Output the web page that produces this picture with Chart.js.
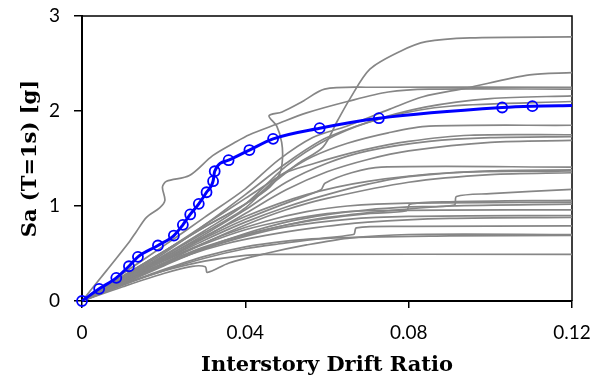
<!DOCTYPE html>
<html>
<head>
<meta charset="utf-8">
<script src="https://cdn.jsdelivr.net/npm/chart.js@4.4.0/dist/chart.umd.min.js"></script>
<style>
  html, body { margin: 0; padding: 0; background: #fff; }
  canvas { display: block; }
</style>
</head>
<body>
<canvas id="myChart" width="593" height="382"></canvas>
<script>
// Axis ticks

const xTicks = [0, 0.04, 0.08, 0.12];
const yTicks = [0, 1, 2, 3];

// Median IDA curve (blue)

const medianDrift = [0, 0.0042, 0.0084, 0.0115, 0.0137, 0.0186, 0.0225, 0.0247, 0.0265, 0.0286, 0.0305,
    0.0321, 0.0325, 0.0359, 0.041, 0.0468, 0.0582, 0.0727, 0.1029, 0.1103, 0.12];
const medianSa = [0, 0.128, 0.244, 0.366, 0.465, 0.584, 0.689, 0.802, 0.911, 1.023, 1.145,
    1.261, 1.366, 1.482, 1.589, 1.707, 1.819, 1.924, 2.037, 2.051, 2.058];

// Single record IDA curves (gray), [drift, Sa]

const rec01 = [[0, 0], [0.01, 0.26], [0.02, 0.52], [0.03, 0.78], [0.04, 1.02], [0.047, 1.25], [0.053, 1.45], [0.059, 1.62], [0.0626, 1.9], [0.0655, 2.12], [0.0705, 2.44], [0.078, 2.63], [0.0843, 2.73], [0.095, 2.77], [0.12, 2.78]];
const rec02 = [[0, 0], [0.01, 0.29], [0.02, 0.58], [0.03, 0.88], [0.04, 1.18], [0.048, 1.48], [0.0565, 1.72], [0.0648, 1.84], [0.0754, 2.02], [0.0835, 2.15], [0.094, 2.24], [0.1096, 2.38], [0.12, 2.405]];
const rec03 = [[0, 0], [0.01, 0.26], [0.02, 0.52], [0.03, 0.78], [0.04, 1.02], [0.046, 1.2], [0.0485, 1.35], [0.0491, 1.5], [0.0489, 1.67], [0.0477, 1.84], [0.0458, 1.95], [0.049, 1.99], [0.054, 2.1], [0.0594, 2.23], [0.07, 2.25], [0.12, 2.25]];
const rec04 = [[0, 0], [0.006, 0.32], [0.0117, 0.63], [0.0133, 0.73], [0.0158, 0.88], [0.019, 0.98], [0.0203, 1.06], [0.0197, 1.2], [0.0207, 1.26], [0.0263, 1.32], [0.032, 1.53], [0.0375, 1.67], [0.041, 1.75], [0.0476, 1.86], [0.055, 1.98], [0.065, 2.1], [0.075, 2.2], [0.085, 2.23], [0.12, 2.23]];
const rec05 = [[0, 0], [0.01, 0.24], [0.02, 0.48], [0.03, 0.74], [0.04, 1.02], [0.05, 1.42], [0.06, 1.7], [0.07, 1.88], [0.084, 2.04], [0.1, 2.13], [0.12, 2.16]];
const rec06 = [[0, 0], [0.01, 0.25], [0.02, 0.5], [0.03, 0.8], [0.04, 1.12], [0.05, 1.45], [0.06, 1.72], [0.075, 1.94], [0.09, 2.05], [0.12, 2.1]];
const rec07 = [[0, 0], [0.01, 0.26], [0.02, 0.52], [0.03, 0.8], [0.04, 1.08], [0.05, 1.36], [0.0565, 1.52], [0.065, 1.66], [0.075, 1.77], [0.085, 1.84], [0.12, 1.85]];
const rec08 = [[0, 0], [0.01, 0.23], [0.02, 0.47], [0.03, 0.72], [0.04, 0.98], [0.0485, 1.32], [0.057, 1.45], [0.069, 1.59], [0.08, 1.68], [0.095, 1.745], [0.12, 1.75]];
const rec09 = [[0, 0], [0.01, 0.22], [0.02, 0.45], [0.03, 0.7], [0.04, 0.96], [0.05, 1.25], [0.06, 1.45], [0.07, 1.58], [0.085, 1.68], [0.1, 1.72], [0.12, 1.73]];
const rec10 = [[0, 0], [0.01, 0.21], [0.02, 0.43], [0.03, 0.67], [0.04, 0.92], [0.05, 1.17], [0.06, 1.36], [0.07, 1.49], [0.08, 1.58], [0.1, 1.67], [0.12, 1.69]];
const rec11 = [[0, 0], [0.01, 0.22], [0.02, 0.44], [0.03, 0.66], [0.04, 0.86], [0.05, 1.03], [0.0585, 1.17], [0.0595, 1.24], [0.066, 1.35], [0.0733, 1.41], [0.12, 1.41]];
const rec12 = [[0, 0], [0.01, 0.21], [0.02, 0.43], [0.03, 0.64], [0.04, 0.83], [0.05, 0.99], [0.06, 1.12], [0.07, 1.23], [0.08, 1.31], [0.1, 1.37], [0.12, 1.38]];
const rec13 = [[0, 0], [0.01, 0.23], [0.02, 0.46], [0.03, 0.68], [0.04, 0.89], [0.055, 1.12], [0.07, 1.26], [0.09, 1.35], [0.12, 1.37]];
const rec14 = [[0, 0], [0.01, 0.19], [0.02, 0.4], [0.03, 0.61], [0.04, 0.8], [0.05, 0.96], [0.06, 1.08], [0.08, 1.25], [0.1, 1.33], [0.12, 1.35]];
const rec15 = [[0, 0], [0.01, 0.19], [0.02, 0.38], [0.03, 0.56], [0.04, 0.71], [0.05, 0.83], [0.06, 0.91], [0.07, 0.96], [0.08, 0.99], [0.0912, 1.01], [0.0917, 1.1], [0.1, 1.13], [0.12, 1.175]];
const rec16 = [[0, 0], [0.01, 0.18], [0.02, 0.37], [0.03, 0.55], [0.04, 0.69], [0.05, 0.8], [0.06, 0.87], [0.07, 0.92], [0.0795, 0.95], [0.0803, 1.02], [0.09, 1.045], [0.12, 1.06]];
const rec17 = [[0, 0], [0.007, 0.16], [0.015, 0.33], [0.025, 0.52], [0.035, 0.7], [0.045, 0.84], [0.055, 0.94], [0.065, 1.0], [0.08, 1.03], [0.12, 1.04]];
const rec18 = [[0, 0], [0.01, 0.21], [0.02, 0.4], [0.03, 0.57], [0.04, 0.7], [0.05, 0.8], [0.06, 0.88], [0.075, 0.95], [0.09, 1.0], [0.12, 1.02]];
const rec19 = [[0, 0], [0.01, 0.22], [0.02, 0.42], [0.03, 0.6], [0.04, 0.75], [0.05, 0.85], [0.06, 0.92], [0.07, 0.95], [0.12, 0.96]];
const rec20 = [[0, 0], [0.01, 0.2], [0.02, 0.38], [0.03, 0.55], [0.04, 0.68], [0.05, 0.78], [0.065, 0.86], [0.08, 0.89], [0.12, 0.9]];
const rec21 = [[0, 0], [0.007, 0.15], [0.015, 0.3], [0.025, 0.47], [0.035, 0.6], [0.045, 0.69], [0.055, 0.76], [0.07, 0.83], [0.09, 0.87], [0.12, 0.88]];
const rec22 = [[0, 0], [0.01, 0.17], [0.02, 0.33], [0.03, 0.47], [0.04, 0.57], [0.05, 0.63], [0.0665, 0.7], [0.0672, 0.77], [0.08, 0.785], [0.12, 0.79]];
const rec23 = [[0, 0], [0.01, 0.15], [0.02, 0.29], [0.027, 0.365], [0.0302, 0.36], [0.0307, 0.3], [0.036, 0.4], [0.045, 0.5], [0.055, 0.59], [0.065, 0.66], [0.08, 0.7], [0.12, 0.7]];
const rec24 = [[0, 0], [0.01, 0.17], [0.02, 0.32], [0.03, 0.45], [0.04, 0.55], [0.048, 0.6], [0.06, 0.66], [0.09, 0.685], [0.12, 0.69]];
const rec25 = [[0, 0], [0.007, 0.13], [0.015, 0.25], [0.022, 0.34], [0.03, 0.42], [0.038, 0.47], [0.045, 0.49], [0.12, 0.49]];

const records = [rec01, rec02, rec03, rec04, rec05, rec06, rec07, rec08, rec09, rec10, rec11, rec12, rec13,
    rec14, rec15, rec16, rec17, rec18, rec19, rec20, rec21, rec22, rec23, rec24, rec25];

// Datasets

const medianSet = {
    label: "Median",
    data: medianDrift.map((x, i) => ({ x: x, y: medianSa[i] })),
    borderColor: "#0000ff",
    borderWidth: 3,
    pointRadius: medianDrift.map((x, i) => i === medianDrift.length - 1 ? 0 : 5),
    pointBorderColor: "#0000ff",
    pointBackgroundColor: "rgba(0,0,0,0)",
    pointBorderWidth: 1.8,
    cubicInterpolationMode: "monotone",
    clip: false,
    order: 0
};

const recordSets = records.map((rec, i) => ({
    label: "Record " + (i + 1),
    data: rec.map(p => ({ x: p[0], y: p[1] })),
    borderColor: "#868686",
    borderWidth: 1.7,
    pointRadius: 0,
    tension: 0.3,
    order: 1
}));

// Top and right frame lines

const frame = {
    id: "frame",
    beforeDatasetsDraw(chart) {
        const { ctx, chartArea: a } = chart;
        ctx.save();
        ctx.strokeStyle = "#000";
        ctx.lineWidth = 1.5;
        ctx.beginPath();
        ctx.moveTo(a.left, a.top);
        ctx.lineTo(a.right, a.top);
        ctx.lineTo(a.right, a.bottom);
        ctx.stroke();
        ctx.restore();
    }
};

const tickFont = { family: "Lato", size: 19 };
const titleFont = { family: "DejaVu Serif", size: 21, weight: "bold" };

// Config

const config = {
    type: "line",
    data: { datasets: [medianSet, ...recordSets] },
    options: {
        responsive: false,
        animation: false,
        events: [],
        layout: { padding: { top: 16, right: 21, left: 0, bottom: 0 } },
        plugins: {
            legend: { display: false },
            tooltip: { enabled: false }
        },
        scales: {
            x: {
                type: "linear",
                min: 0,
                max: 0.12,
                afterBuildTicks: (s) => { s.ticks = xTicks.map(v => ({ value: v })); },
                afterFit: (s) => { s.height = 81; s.paddingLeft = 0; s.paddingRight = 0; },
                border: { color: "#000", width: 2 },
                grid: { drawOnChartArea: false, color: "#000", tickLength: 7, lineWidth: 1.5 },
                ticks: { color: "#000", font: tickFont, padding: 13, maxRotation: 0, callback: (v) => String(v) },
                title: { display: true, text: "Interstory Drift Ratio", color: "#000", font: titleFont, padding: { top: 0, bottom: 4 } }
            },
            y: {
                type: "linear",
                min: 0,
                max: 3,
                afterBuildTicks: (s) => { s.ticks = yTicks.map(v => ({ value: v })); },
                afterFit: (s) => { s.width = 82; s.paddingTop = 0; s.paddingBottom = 0; },
                border: { color: "#000", width: 2 },
                grid: { drawOnChartArea: false, color: "#000", tickLength: 8, lineWidth: 1.5 },
                ticks: { color: "#000", font: tickFont, padding: 14, callback: (v) => String(v) },
                title: { display: true, text: "Sa (T=1s) [g]", color: "#000", font: titleFont, padding: { top: 18, bottom: 0 } }
            }
        }
    },
    plugins: [frame]
};

// Render

const myChart = new Chart(document.getElementById("myChart"), config);
</script>
</body>
</html>
